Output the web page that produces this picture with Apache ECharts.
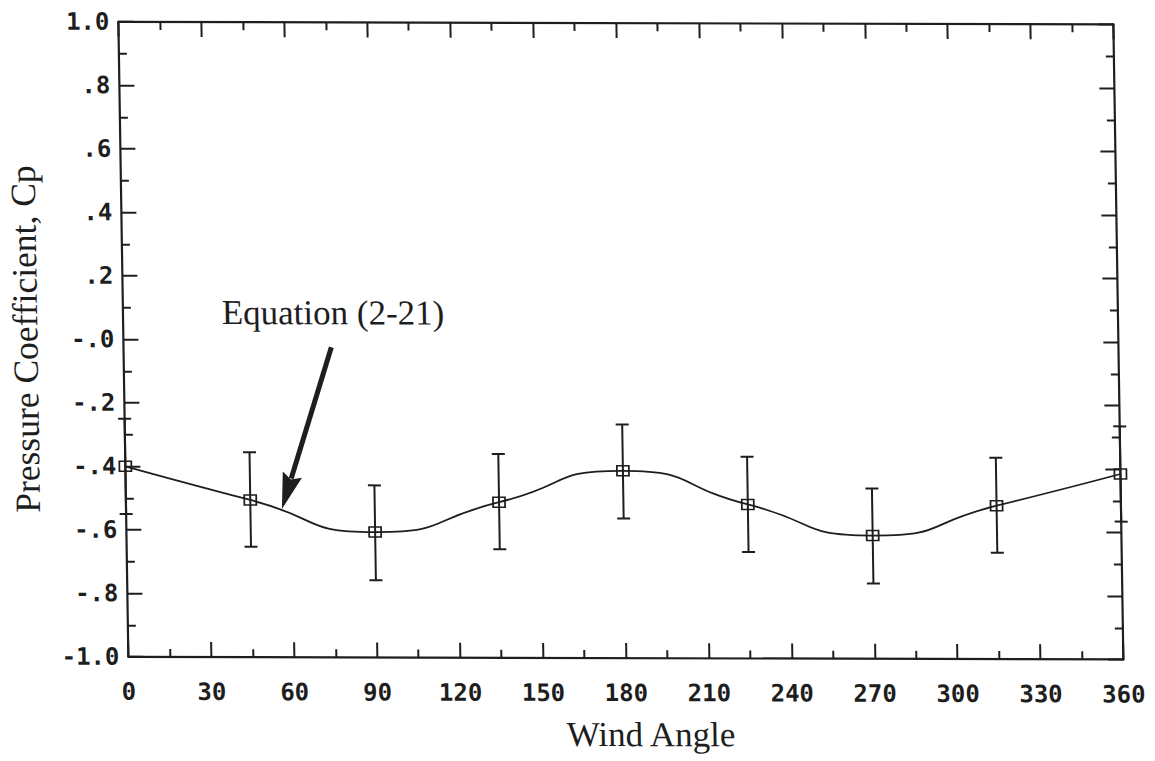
<!DOCTYPE html>
<html>
<head>
<meta charset="utf-8">
<script src="https://cdn.jsdelivr.net/npm/echarts@6/dist/echarts.min.js"></script>
<style>
  html, body { margin: 0; padding: 0; background: #ffffff; overflow: hidden; }
  #chart { width: 1155px; height: 761px; transform: skew(0.9deg, 0.15deg); transform-origin: 50% 50%; }
</style>
</head>
<body>
<div id="chart"></div>
<script>
// ---- data ----
const xTickLabels = ['0','30','60','90','120','150','180','210','240','270','300','330','360'];
const yTickLabels = ['-1.0','-.8','-.6','-.4','-.2','-.0','.2','.4','.6','.8','1.0'];
const windAngles = [0, 45, 90, 135, 180, 225, 270, 315, 360];
const cpValues   = [-0.40, -0.505, -0.605, -0.51, -0.41, -0.515, -0.612, -0.517, -0.416];
const cpUpper    = [-0.25, -0.355, -0.458, -0.358, -0.264, -0.365, -0.464, -0.366, -0.266];
const cpLower    = [-0.55, -0.652, -0.757, -0.658, -0.56, -0.665, -0.763, -0.665, -0.566];
const annotationText = 'Equation (2-21)';
const annotationAt = [76, 0.085];          // data coords of label centre
const arrowFrom = [75.2, -0.023];           // data coords
const arrowTo = [56.4, -0.533];             // data coords (tip)

const INK = '#1e1e1e';
const monoFont = '"DejaVu Sans Mono", "Liberation Mono", monospace';
const serifFont = '"Liberation Serif", "DejaVu Serif", serif';

const chart = echarts.init(document.getElementById('chart'), null, { renderer: 'svg' });

function axisStyle() {
  return {
    axisLine: { show: true, onZero: false, lineStyle: { color: INK, width: 2.2 } },
    axisTick: { show: true, inside: true, length: 15, lineStyle: { color: INK, width: 2 } },
    minorTick: { show: true, splitNumber: 2, length: 8, lineStyle: { color: INK, width: 2 } },
    splitLine: { show: false },
    minorSplitLine: { show: false }
  };
}

const option = {
  animation: false,
  backgroundColor: '#ffffff',
  grid: { left: 123, right: 36, top: 23, bottom: 103, containLabel: false },
  xAxis: [
    Object.assign({
      type: 'value', min: 0, max: 360, interval: 30, position: 'bottom',
      name: 'Wind Angle', nameLocation: 'middle', nameGap: 59,
      nameTextStyle: { fontFamily: serifFont, fontSize: 35, color: INK, padding: [0, 0, 0, 48] },
      axisLabel: {
        show: true, margin: 23, fontFamily: monoFont, fontWeight: 'bold', fontSize: 24, color: INK,
        formatter: (v) => xTickLabels[Math.round(v / 30)]
      }
    }, axisStyle()),
    Object.assign({
      type: 'value', min: 0, max: 360, interval: 30, position: 'top',
      axisLabel: { show: false }
    }, axisStyle())
  ],
  yAxis: [
    Object.assign({
      type: 'value', min: -1, max: 1, interval: 0.2, position: 'left',
      name: 'Pressure Coefficient, Cp', nameLocation: 'middle', nameGap: 80, nameRotate: 90,
      nameTextStyle: { fontFamily: serifFont, fontSize: 35.5, color: INK },
      axisLabel: {
        show: true, margin: 9, fontFamily: monoFont, fontWeight: 'bold', fontSize: 24, color: INK,
        formatter: (v) => yTickLabels[Math.round((v + 1) / 0.2)]
      }
    }, axisStyle()),
    Object.assign({
      type: 'value', min: -1, max: 1, interval: 0.2, position: 'right',
      axisLabel: { show: false }
    }, axisStyle())
  ],
  series: [
    {
      type: 'custom',
      name: 'error',
      xAxisIndex: 0, yAxisIndex: 0,
      clip: false,
      z: 3,
      data: windAngles.map((a, i) => [a, cpLower[i], cpUpper[i]]),
      renderItem: function (params, api) {
        const x = api.value(0);
        const top = api.coord([x, api.value(2)]);
        const bot = api.coord([x, api.value(1)]);
        const hw = 6.5;
        const st = { stroke: INK, lineWidth: 2 };
        return {
          type: 'group',
          children: [
            { type: 'line', shape: { x1: top[0], y1: top[1], x2: bot[0], y2: bot[1] }, style: st },
            { type: 'line', shape: { x1: top[0] - hw, y1: top[1], x2: top[0] + hw, y2: top[1] }, style: st },
            { type: 'line', shape: { x1: bot[0] - hw, y1: bot[1], x2: bot[0] + hw, y2: bot[1] }, style: st }
          ]
        };
      }
    },
    {
      type: 'line',
      name: 'Cp',
      xAxisIndex: 0, yAxisIndex: 0,
      smooth: 0.6,
      z: 4,
      data: windAngles.map((a, i) => [a, cpValues[i]]),
      symbol: 'rect',
      symbolSize: [12, 10],
      showSymbol: true,
      lineStyle: { color: INK, width: 1.8 },
      itemStyle: { color: 'rgba(255,255,255,0)', borderColor: INK, borderWidth: 1.6 }
    },
    {
      type: 'custom',
      name: 'annotation',
      xAxisIndex: 0, yAxisIndex: 0,
      clip: false,
      z: 5,
      data: [[arrowFrom[0], arrowFrom[1], arrowTo[0], arrowTo[1], annotationAt[0], annotationAt[1]]],
      renderItem: function (params, api) {
        const p0 = api.coord([api.value(0), api.value(1)]);
        const p1 = api.coord([api.value(2), api.value(3)]);
        const pt = api.coord([api.value(4), api.value(5)]);
        const dx = p1[0] - p0[0], dy = p1[1] - p0[1];
        const len = Math.sqrt(dx * dx + dy * dy);
        const ux = dx / len, uy = dy / len;
        const headLen = 36, headHalf = 10;
        const bx = p1[0] - ux * headLen, by = p1[1] - uy * headLen;
        const nx = -uy, ny = ux;
        return {
          type: 'group',
          children: [
            { type: 'line', shape: { x1: p0[0], y1: p0[1], x2: bx + ux * 4, y2: by + uy * 4 },
              style: { stroke: INK, lineWidth: 5 } },
            { type: 'polygon', shape: { points: [
                [p1[0], p1[1]],
                [bx + nx * headHalf, by + ny * headHalf],
                [bx + ux * 5, by + uy * 5],
                [bx - nx * headHalf, by - ny * headHalf]
              ] }, style: { fill: INK } },
            { type: 'text', x: pt[0], y: pt[1],
              style: { text: annotationText, fill: INK, font: '35px ' + serifFont,
                       align: 'center', verticalAlign: 'middle' } }
          ]
        };
      }
    }
  ]
};

chart.setOption(option);
</script>
</body>
</html>
